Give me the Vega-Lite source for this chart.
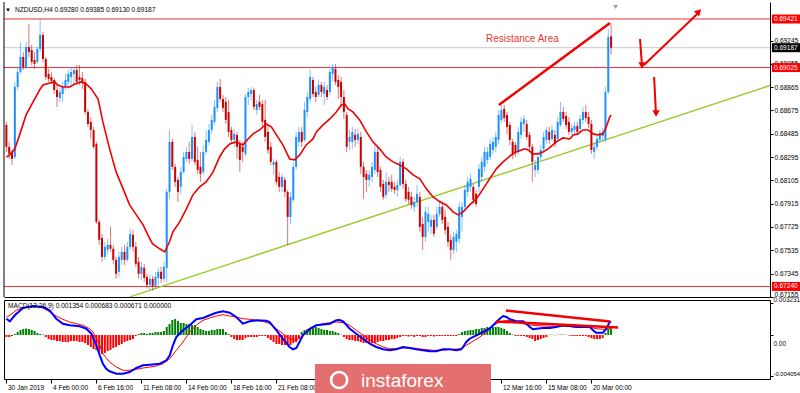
{
"$schema": "https://vega.github.io/schema/vega-lite/v6.json",
"background": "#ffffff",
"padding": {"left": 1, "top": 0, "right": 0, "bottom": 0},
"spacing": 3,
"bounds": "flush",
"config": {"view": {"stroke": null}, "font": "Liberation Sans", "axis": {"grid": false, "labelFont": "Liberation Sans"}, "scale": {"continuousPadding": 0}},
"datasets": {
"candles": [
{"i":0,"o":0.68557,"h":0.68582,"l":0.68337,"c":0.68378,"m":-0.0002},
{"i":1,"o":0.68378,"h":0.68419,"l":0.6828,"c":0.68321,"m":-0.0002},
{"i":2,"o":0.68337,"h":0.68353,"l":0.68231,"c":0.6828,"m":-0.0001},
{"i":3,"o":0.68296,"h":0.68908,"l":0.6828,"c":0.68867,"m":0.0001},
{"i":4,"o":0.68867,"h":0.6903,"l":0.68842,"c":0.68989,"m":0.0003},
{"i":5,"o":0.68989,"h":0.69234,"l":0.68973,"c":0.69111,"m":0.0005},
{"i":6,"o":0.69111,"h":0.69152,"l":0.69005,"c":0.6903,"m":0.0006},
{"i":7,"o":0.6903,"h":0.69234,"l":0.69014,"c":0.69193,"m":0.00065},
{"i":8,"o":0.69193,"h":0.6938,"l":0.69111,"c":0.69152,"m":0.0006},
{"i":9,"o":0.69168,"h":0.69209,"l":0.69046,"c":0.69071,"m":0.0005},
{"i":10,"o":0.69087,"h":0.69152,"l":0.69014,"c":0.69054,"m":0.0004},
{"i":11,"o":0.69071,"h":0.69193,"l":0.69054,"c":0.69176,"m":0.0002},
{"i":12,"o":0.69176,"h":0.69421,"l":0.69152,"c":0.69291,"m":0.0001},
{"i":13,"o":0.69291,"h":0.69315,"l":0.69071,"c":0.69095,"m":0.00005},
{"i":14,"o":0.69095,"h":0.69111,"l":0.68924,"c":0.68948,"m":-0.0002},
{"i":15,"o":0.68973,"h":0.69014,"l":0.68908,"c":0.68932,"m":-0.0004},
{"i":16,"o":0.68948,"h":0.68989,"l":0.68891,"c":0.68916,"m":-0.0005},
{"i":17,"o":0.68924,"h":0.6894,"l":0.6881,"c":0.68842,"m":-0.0005},
{"i":18,"o":0.68842,"h":0.68883,"l":0.68704,"c":0.68785,"m":-0.0006},
{"i":19,"o":0.68777,"h":0.68859,"l":0.68745,"c":0.68826,"m":-0.0006},
{"i":20,"o":0.6881,"h":0.68908,"l":0.68745,"c":0.68867,"m":-0.0007},
{"i":21,"o":0.68867,"h":0.68973,"l":0.68842,"c":0.68924,"m":-0.0007},
{"i":22,"o":0.68908,"h":0.69005,"l":0.68851,"c":0.68973,"m":-0.0007},
{"i":23,"o":0.68948,"h":0.6903,"l":0.68883,"c":0.68989,"m":-0.0006},
{"i":24,"o":0.68973,"h":0.6903,"l":0.68891,"c":0.69005,"m":-0.0006},
{"i":25,"o":0.69005,"h":0.69046,"l":0.68883,"c":0.68908,"m":-0.0006},
{"i":26,"o":0.68948,"h":0.69046,"l":0.68883,"c":0.68924,"m":-0.0007},
{"i":27,"o":0.6894,"h":0.68989,"l":0.68851,"c":0.68908,"m":-0.0007},
{"i":28,"o":0.68908,"h":0.68932,"l":0.68639,"c":0.68663,"m":-0.0008},
{"i":29,"o":0.68663,"h":0.68688,"l":0.68541,"c":0.68565,"m":-0.001},
{"i":30,"o":0.68582,"h":0.68622,"l":0.68443,"c":0.68516,"m":-0.0012},
{"i":31,"o":0.68516,"h":0.68541,"l":0.68362,"c":0.68378,"m":-0.0014},
{"i":32,"o":0.68402,"h":0.68419,"l":0.6775,"c":0.67767,"m":-0.0015},
{"i":33,"o":0.67767,"h":0.67783,"l":0.67579,"c":0.6762,"m":-0.0017},
{"i":34,"o":0.67636,"h":0.67669,"l":0.67441,"c":0.67481,"m":-0.0019},
{"i":35,"o":0.67481,"h":0.67604,"l":0.67457,"c":0.67563,"m":-0.0018},
{"i":36,"o":0.67538,"h":0.67628,"l":0.67498,"c":0.67579,"m":-0.0016},
{"i":37,"o":0.67579,"h":0.67726,"l":0.67522,"c":0.67547,"m":-0.0015},
{"i":38,"o":0.67547,"h":0.67579,"l":0.67424,"c":0.67457,"m":-0.0013},
{"i":39,"o":0.67457,"h":0.67481,"l":0.67302,"c":0.67343,"m":-0.0012},
{"i":40,"o":0.67359,"h":0.67522,"l":0.67318,"c":0.67481,"m":-0.001},
{"i":41,"o":0.67457,"h":0.67563,"l":0.67416,"c":0.67522,"m":-0.0009},
{"i":42,"o":0.67522,"h":0.67579,"l":0.67416,"c":0.67457,"m":-0.0007},
{"i":43,"o":0.67457,"h":0.67604,"l":0.67441,"c":0.67563,"m":-0.0006},
{"i":44,"o":0.67563,"h":0.6771,"l":0.67538,"c":0.67669,"m":-0.0005},
{"i":45,"o":0.67661,"h":0.67701,"l":0.67522,"c":0.67563,"m":-0.0004},
{"i":46,"o":0.67563,"h":0.67604,"l":0.674,"c":0.67424,"m":-0.0001},
{"i":47,"o":0.67441,"h":0.67481,"l":0.67302,"c":0.67343,"m":0.0001},
{"i":48,"o":0.67343,"h":0.67441,"l":0.67294,"c":0.674,"m":0.0002},
{"i":49,"o":0.67392,"h":0.67424,"l":0.67278,"c":0.6731,"m":0.0002},
{"i":50,"o":0.67318,"h":0.67343,"l":0.67221,"c":0.67253,"m":0.0001},
{"i":51,"o":0.67253,"h":0.67335,"l":0.67212,"c":0.67302,"m":0.0002},
{"i":52,"o":0.67302,"h":0.67326,"l":0.67204,"c":0.67245,"m":0.0002},
{"i":53,"o":0.67245,"h":0.67359,"l":0.67221,"c":0.67318,"m":0.0003},
{"i":54,"o":0.6731,"h":0.67392,"l":0.67253,"c":0.67359,"m":0.0003},
{"i":55,"o":0.67359,"h":0.674,"l":0.67269,"c":0.67302,"m":0.0003},
{"i":56,"o":0.67302,"h":0.67441,"l":0.67278,"c":0.674,"m":0.0004},
{"i":57,"o":0.67392,"h":0.68036,"l":0.67278,"c":0.68011,"m":0.0008},
{"i":58,"o":0.68011,"h":0.68516,"l":0.67954,"c":0.68419,"m":0.0011},
{"i":59,"o":0.68419,"h":0.68443,"l":0.6819,"c":0.68215,"m":0.0015},
{"i":60,"o":0.68215,"h":0.68239,"l":0.68052,"c":0.68093,"m":0.0016},
{"i":61,"o":0.68109,"h":0.68133,"l":0.6793,"c":0.68011,"m":0.0014},
{"i":62,"o":0.68052,"h":0.68215,"l":0.67995,"c":0.68174,"m":0.0012},
{"i":63,"o":0.68174,"h":0.68337,"l":0.68158,"c":0.68296,"m":0.0012},
{"i":64,"o":0.6828,"h":0.68378,"l":0.68256,"c":0.68337,"m":0.0011},
{"i":65,"o":0.68337,"h":0.68419,"l":0.68239,"c":0.6828,"m":0.0011},
{"i":66,"o":0.6828,"h":0.68557,"l":0.68256,"c":0.68459,"m":0.001},
{"i":67,"o":0.68459,"h":0.685,"l":0.68231,"c":0.68256,"m":0.001},
{"i":68,"o":0.68272,"h":0.68378,"l":0.68158,"c":0.6819,"m":0.0008},
{"i":69,"o":0.68215,"h":0.68337,"l":0.68093,"c":0.68158,"m":0.0006},
{"i":70,"o":0.68174,"h":0.68394,"l":0.6815,"c":0.68337,"m":0.0005},
{"i":71,"o":0.68337,"h":0.68516,"l":0.68313,"c":0.68435,"m":0.0004},
{"i":72,"o":0.68419,"h":0.68565,"l":0.68394,"c":0.68516,"m":0.0004},
{"i":73,"o":0.68516,"h":0.68639,"l":0.68484,"c":0.68598,"m":0.0005},
{"i":74,"o":0.68582,"h":0.68761,"l":0.68557,"c":0.68704,"m":0.0005},
{"i":75,"o":0.68696,"h":0.68908,"l":0.68663,"c":0.68867,"m":0.0006},
{"i":76,"o":0.68867,"h":0.68932,"l":0.68745,"c":0.68769,"m":0.0006},
{"i":77,"o":0.68769,"h":0.68802,"l":0.68663,"c":0.68696,"m":0.0006},
{"i":78,"o":0.68745,"h":0.68785,"l":0.68565,"c":0.68598,"m":0.0003},
{"i":79,"o":0.68663,"h":0.68761,"l":0.68459,"c":0.685,"m":0.0001},
{"i":80,"o":0.68516,"h":0.68541,"l":0.68402,"c":0.68435,"m":-0.0002},
{"i":81,"o":0.68435,"h":0.68525,"l":0.68378,"c":0.68484,"m":-0.0004},
{"i":82,"o":0.68476,"h":0.685,"l":0.6828,"c":0.68378,"m":-0.0005},
{"i":83,"o":0.68402,"h":0.68435,"l":0.68174,"c":0.68272,"m":-0.0005},
{"i":84,"o":0.68378,"h":0.68419,"l":0.68256,"c":0.68337,"m":-0.0005},
{"i":85,"o":0.68321,"h":0.6881,"l":0.68296,"c":0.68785,"m":-0.0003},
{"i":86,"o":0.68785,"h":0.68859,"l":0.6872,"c":0.68826,"m":-0.0002},
{"i":87,"o":0.6881,"h":0.68867,"l":0.68761,"c":0.68842,"m":-0.0002},
{"i":88,"o":0.68842,"h":0.68859,"l":0.68679,"c":0.68704,"m":-0.0002},
{"i":89,"o":0.68679,"h":0.68761,"l":0.68639,"c":0.68728,"m":-0.0002},
{"i":90,"o":0.68745,"h":0.68802,"l":0.68679,"c":0.68704,"m":-0.0001},
{"i":91,"o":0.68728,"h":0.68761,"l":0.68541,"c":0.68582,"m":-0.0001},
{"i":92,"o":0.68598,"h":0.68761,"l":0.68419,"c":0.68459,"m":-0.0001},
{"i":93,"o":0.685,"h":0.68557,"l":0.68321,"c":0.68353,"m":-0.0003},
{"i":94,"o":0.68378,"h":0.68419,"l":0.68231,"c":0.68256,"m":-0.0005},
{"i":95,"o":0.68231,"h":0.6828,"l":0.6815,"c":0.68256,"m":-0.0007},
{"i":96,"o":0.68256,"h":0.68272,"l":0.68068,"c":0.68093,"m":-0.0009},
{"i":97,"o":0.68133,"h":0.68174,"l":0.68011,"c":0.68052,"m":-0.0009},
{"i":98,"o":0.68052,"h":0.68158,"l":0.68011,"c":0.68133,"m":-0.001},
{"i":99,"o":0.68109,"h":0.68133,"l":0.6797,"c":0.68011,"m":-0.001},
{"i":100,"o":0.68011,"h":0.68027,"l":0.67579,"c":0.67807,"m":-0.001},
{"i":101,"o":0.67807,"h":0.68011,"l":0.6775,"c":0.6797,"m":-0.001},
{"i":102,"o":0.67946,"h":0.68256,"l":0.6793,"c":0.68215,"m":-0.0008},
{"i":103,"o":0.68215,"h":0.685,"l":0.6819,"c":0.68459,"m":-0.0007},
{"i":104,"o":0.68419,"h":0.68541,"l":0.68378,"c":0.685,"m":-0.0004},
{"i":105,"o":0.685,"h":0.68541,"l":0.68378,"c":0.68419,"m":0.0003},
{"i":106,"o":0.68435,"h":0.68745,"l":0.68419,"c":0.68679,"m":0.0005},
{"i":107,"o":0.68663,"h":0.68826,"l":0.68622,"c":0.68785,"m":0.0006},
{"i":108,"o":0.68769,"h":0.69014,"l":0.68745,"c":0.68948,"m":0.0007},
{"i":109,"o":0.68924,"h":0.68948,"l":0.68785,"c":0.6881,"m":0.0008},
{"i":110,"o":0.68826,"h":0.68867,"l":0.68745,"c":0.68785,"m":0.0008},
{"i":111,"o":0.68802,"h":0.68924,"l":0.68785,"c":0.68883,"m":0.0007},
{"i":112,"o":0.68883,"h":0.68908,"l":0.68785,"c":0.68826,"m":0.0006},
{"i":113,"o":0.6881,"h":0.68908,"l":0.6872,"c":0.68867,"m":0.0005},
{"i":114,"o":0.68842,"h":0.68883,"l":0.68761,"c":0.68785,"m":0.0005},
{"i":115,"o":0.68826,"h":0.69014,"l":0.68802,"c":0.68989,"m":0.0004},
{"i":116,"o":0.68973,"h":0.69054,"l":0.68908,"c":0.6903,"m":0.0004},
{"i":117,"o":0.69014,"h":0.69054,"l":0.68883,"c":0.68908,"m":0.0003},
{"i":118,"o":0.68924,"h":0.68965,"l":0.68769,"c":0.68867,"m":0.0002},
{"i":119,"o":0.68908,"h":0.68948,"l":0.68704,"c":0.68785,"m":0.00003},
{"i":120,"o":0.68785,"h":0.68842,"l":0.68606,"c":0.68663,"m":-0.0002},
{"i":121,"o":0.68639,"h":0.68663,"l":0.68337,"c":0.68378,"m":-0.0004},
{"i":122,"o":0.68419,"h":0.68516,"l":0.68353,"c":0.68459,"m":-0.0005},
{"i":123,"o":0.68419,"h":0.68541,"l":0.68362,"c":0.685,"m":-0.0005},
{"i":124,"o":0.68476,"h":0.68525,"l":0.68378,"c":0.68435,"m":-0.0006},
{"i":125,"o":0.68435,"h":0.68525,"l":0.68402,"c":0.68484,"m":-0.0006},
{"i":126,"o":0.68459,"h":0.685,"l":0.68158,"c":0.68215,"m":-0.0007},
{"i":127,"o":0.68215,"h":0.68256,"l":0.67954,"c":0.68133,"m":-0.0008},
{"i":128,"o":0.68158,"h":0.6819,"l":0.68011,"c":0.68109,"m":-0.0008},
{"i":129,"o":0.68109,"h":0.6819,"l":0.68052,"c":0.6815,"m":-0.0009},
{"i":130,"o":0.68133,"h":0.68256,"l":0.68093,"c":0.68215,"m":-0.0008},
{"i":131,"o":0.6819,"h":0.68394,"l":0.68158,"c":0.68337,"m":-0.0008},
{"i":132,"o":0.68337,"h":0.68378,"l":0.68133,"c":0.68174,"m":-0.0007},
{"i":133,"o":0.6819,"h":0.68215,"l":0.68011,"c":0.68052,"m":-0.0006},
{"i":134,"o":0.68076,"h":0.68109,"l":0.67946,"c":0.6797,"m":-0.0006},
{"i":135,"o":0.67987,"h":0.68174,"l":0.67954,"c":0.68093,"m":-0.0005},
{"i":136,"o":0.68093,"h":0.68133,"l":0.68011,"c":0.68068,"m":-0.0005},
{"i":137,"o":0.68093,"h":0.6815,"l":0.68011,"c":0.68036,"m":-0.0004},
{"i":138,"o":0.68052,"h":0.68093,"l":0.67995,"c":0.68027,"m":-0.0004},
{"i":139,"o":0.68027,"h":0.68109,"l":0.6797,"c":0.68068,"m":-0.0003},
{"i":140,"o":0.68068,"h":0.68296,"l":0.68052,"c":0.68256,"m":-0.0002},
{"i":141,"o":0.68256,"h":0.6828,"l":0.68036,"c":0.68076,"m":-0.0001},
{"i":142,"o":0.68076,"h":0.68109,"l":0.6793,"c":0.67954,"m":-0.0001},
{"i":143,"o":0.68011,"h":0.68052,"l":0.67913,"c":0.67946,"m":-0.00015},
{"i":144,"o":0.6797,"h":0.68011,"l":0.67873,"c":0.67905,"m":-0.0001},
{"i":145,"o":0.67889,"h":0.6797,"l":0.67848,"c":0.6793,"m":-0.0002},
{"i":146,"o":0.6793,"h":0.68068,"l":0.67889,"c":0.67995,"m":-0.0001},
{"i":147,"o":0.6797,"h":0.68011,"l":0.67685,"c":0.67726,"m":-0.0001},
{"i":148,"o":0.6775,"h":0.67807,"l":0.67538,"c":0.67644,"m":-0.0002},
{"i":149,"o":0.67644,"h":0.67889,"l":0.67604,"c":0.67848,"m":-0.0002},
{"i":150,"o":0.67767,"h":0.67889,"l":0.67685,"c":0.67832,"m":-0.0001},
{"i":151,"o":0.67726,"h":0.67824,"l":0.67669,"c":0.67783,"m":-0.0001},
{"i":152,"o":0.67783,"h":0.67824,"l":0.67644,"c":0.67669,"m":-0.00015},
{"i":153,"o":0.67726,"h":0.67889,"l":0.67701,"c":0.67832,"m":-0.0001},
{"i":154,"o":0.67832,"h":0.67946,"l":0.67807,"c":0.67889,"m":-0.0001},
{"i":155,"o":0.67889,"h":0.6793,"l":0.6775,"c":0.67783,"m":-0.0001},
{"i":156,"o":0.67807,"h":0.67864,"l":0.67661,"c":0.67701,"m":-0.0001},
{"i":157,"o":0.67726,"h":0.67767,"l":0.67563,"c":0.67604,"m":-0.0001},
{"i":158,"o":0.6762,"h":0.67661,"l":0.67457,"c":0.67538,"m":-0.0001},
{"i":159,"o":0.67538,"h":0.67685,"l":0.67506,"c":0.67644,"m":-0.0001},
{"i":160,"o":0.67604,"h":0.67701,"l":0.67522,"c":0.67669,"m":-0.0001},
{"i":161,"o":0.67628,"h":0.6793,"l":0.67587,"c":0.67889,"m":0.0001},
{"i":162,"o":0.67807,"h":0.6793,"l":0.67685,"c":0.67889,"m":0.0003},
{"i":163,"o":0.67889,"h":0.68068,"l":0.67848,"c":0.68027,"m":0.0004},
{"i":164,"o":0.68011,"h":0.68133,"l":0.6797,"c":0.68093,"m":0.00045},
{"i":165,"o":0.68052,"h":0.68158,"l":0.68011,"c":0.68117,"m":0.0005},
{"i":166,"o":0.68052,"h":0.68076,"l":0.67913,"c":0.67946,"m":0.0005},
{"i":167,"o":0.67995,"h":0.68027,"l":0.67889,"c":0.67913,"m":0.0006},
{"i":168,"o":0.68052,"h":0.68239,"l":0.68011,"c":0.68199,"m":0.0006},
{"i":169,"o":0.68133,"h":0.68296,"l":0.68093,"c":0.68256,"m":0.0007},
{"i":170,"o":0.68215,"h":0.68378,"l":0.68174,"c":0.68337,"m":0.0007},
{"i":171,"o":0.68272,"h":0.68378,"l":0.68239,"c":0.68337,"m":0.0008},
{"i":172,"o":0.68296,"h":0.68443,"l":0.68272,"c":0.68402,"m":0.0008},
{"i":173,"o":0.68353,"h":0.68459,"l":0.68321,"c":0.68419,"m":0.0008},
{"i":174,"o":0.68378,"h":0.685,"l":0.68337,"c":0.68459,"m":0.0008},
{"i":175,"o":0.68435,"h":0.68679,"l":0.68402,"c":0.68639,"m":0.0008},
{"i":176,"o":0.68598,"h":0.6872,"l":0.68565,"c":0.68679,"m":0.0007},
{"i":177,"o":0.68688,"h":0.6872,"l":0.68582,"c":0.68614,"m":0.0006},
{"i":178,"o":0.68639,"h":0.68663,"l":0.68484,"c":0.68541,"m":0.0004},
{"i":179,"o":0.68557,"h":0.68582,"l":0.68394,"c":0.68435,"m":0.0002},
{"i":180,"o":0.68419,"h":0.68443,"l":0.6828,"c":0.68313,"m":0.00005},
{"i":181,"o":0.68394,"h":0.68419,"l":0.68296,"c":0.68337,"m":-0.0001},
{"i":182,"o":0.68337,"h":0.68541,"l":0.68313,"c":0.685,"m":-0.0001},
{"i":183,"o":0.68476,"h":0.68622,"l":0.68443,"c":0.68582,"m":-0.0001},
{"i":184,"o":0.68565,"h":0.68639,"l":0.685,"c":0.68606,"m":-0.0001},
{"i":185,"o":0.68565,"h":0.68598,"l":0.68435,"c":0.68459,"m":-0.0002},
{"i":186,"o":0.68476,"h":0.685,"l":0.68353,"c":0.68378,"m":-0.0003},
{"i":187,"o":0.68378,"h":0.68402,"l":0.68093,"c":0.68256,"m":-0.0004},
{"i":188,"o":0.6819,"h":0.68272,"l":0.68133,"c":0.68231,"m":-0.0006},
{"i":189,"o":0.6819,"h":0.68337,"l":0.68158,"c":0.68296,"m":-0.0005},
{"i":190,"o":0.68296,"h":0.68394,"l":0.68272,"c":0.68353,"m":-0.0004},
{"i":191,"o":0.68362,"h":0.685,"l":0.68337,"c":0.68459,"m":-0.0003},
{"i":192,"o":0.68435,"h":0.68541,"l":0.68402,"c":0.68516,"m":-0.0002},
{"i":193,"o":0.685,"h":0.68541,"l":0.68402,"c":0.68435,"m":0.00003},
{"i":194,"o":0.68443,"h":0.68557,"l":0.68419,"c":0.68516,"m":0.00003},
{"i":195,"o":0.68476,"h":0.68516,"l":0.68378,"c":0.68402,"m":-0.00003},
{"i":196,"o":0.68443,"h":0.68622,"l":0.68419,"c":0.68582,"m":0.00003},
{"i":197,"o":0.68557,"h":0.68745,"l":0.68541,"c":0.68663,"m":0.00005},
{"i":198,"o":0.68663,"h":0.68704,"l":0.68582,"c":0.68606,"m":0.00003},
{"i":199,"o":0.6863,"h":0.68663,"l":0.68525,"c":0.68557,"m":0.00003},
{"i":200,"o":0.68582,"h":0.68622,"l":0.68476,"c":0.685,"m":-0.00005},
{"i":201,"o":0.685,"h":0.68565,"l":0.68476,"c":0.68533,"m":-0.0001},
{"i":202,"o":0.68516,"h":0.68582,"l":0.68484,"c":0.68549,"m":-0.0001},
{"i":203,"o":0.68549,"h":0.68582,"l":0.68476,"c":0.685,"m":-0.0001},
{"i":204,"o":0.68525,"h":0.68639,"l":0.685,"c":0.68606,"m":-0.0001},
{"i":205,"o":0.68598,"h":0.68704,"l":0.68565,"c":0.68663,"m":-0.0001},
{"i":206,"o":0.68663,"h":0.6872,"l":0.68582,"c":0.68614,"m":-0.0001},
{"i":207,"o":0.68622,"h":0.68663,"l":0.68533,"c":0.68565,"m":-0.0002},
{"i":208,"o":0.68565,"h":0.68598,"l":0.68321,"c":0.68353,"m":-0.0003},
{"i":209,"o":0.68337,"h":0.68419,"l":0.6828,"c":0.68378,"m":-0.0004},
{"i":210,"o":0.68378,"h":0.68476,"l":0.68353,"c":0.68443,"m":-0.0004},
{"i":211,"o":0.68435,"h":0.68516,"l":0.6841,"c":0.68492,"m":-0.0004},
{"i":212,"o":0.68467,"h":0.68533,"l":0.68419,"c":0.685,"m":-0.0003},
{"i":213,"o":0.68435,"h":0.68867,"l":0.68419,"c":0.68826,"m":0.0002},
{"i":214,"o":0.68826,"h":0.6934,"l":0.6881,"c":0.69274,"m":0.0006},
{"i":215,"o":0.6928,"h":0.69385,"l":0.6913,"c":0.69187,"m":0.000671}
],
"ma": [
{"i":0,"p":0.68296},{"i":1.2,"p":0.68313},{"i":3,"p":0.68362},{"i":4.7,"p":0.68476},{"i":7,"p":0.68639},{"i":9.5,"p":0.68745},{"i":11.8,"p":0.68842},{"i":13,"p":0.68883},{"i":15.4,"p":0.68899},{"i":17.2,"p":0.68908},{"i":18.3,"p":0.68883},{"i":20,"p":0.68867},{"i":22.5,"p":0.68867},{"i":24.3,"p":0.68891},{"i":26.6,"p":0.68908},{"i":28.4,"p":0.68891},{"i":30.2,"p":0.68851},{"i":32.6,"p":0.68769},{"i":34.3,"p":0.68582},{"i":36.7,"p":0.68362},{"i":39,"p":0.68174},{"i":41.5,"p":0.68036},{"i":43.8,"p":0.67905},{"i":46.2,"p":0.67824},{"i":48.6,"p":0.67742},{"i":51,"p":0.67628},{"i":52,"p":0.67587},{"i":54.5,"p":0.67547},{"i":56.3,"p":0.67522},{"i":58,"p":0.67604},{"i":59.2,"p":0.67685},{"i":61.6,"p":0.67767},{"i":64,"p":0.67873},{"i":66.3,"p":0.67987},{"i":68.7,"p":0.68052},{"i":71,"p":0.68093},{"i":73.5,"p":0.68174},{"i":75.8,"p":0.68296},{"i":77.6,"p":0.68362},{"i":79.4,"p":0.68402},{"i":81.7,"p":0.68419},{"i":84.1,"p":0.68394},{"i":85.9,"p":0.68443},{"i":87.7,"p":0.68484},{"i":90,"p":0.68516},{"i":92.4,"p":0.68565},{"i":94.2,"p":0.68541},{"i":96,"p":0.68476},{"i":98.3,"p":0.68394},{"i":100.7,"p":0.6828},{"i":102.5,"p":0.68272},{"i":104.3,"p":0.68313},{"i":106.6,"p":0.68394},{"i":109,"p":0.68443},{"i":110.2,"p":0.685},{"i":112.6,"p":0.68557},{"i":115,"p":0.68606},{"i":117.3,"p":0.68663},{"i":119.1,"p":0.6872},{"i":120.3,"p":0.68728},{"i":121.5,"p":0.68688},{"i":123.2,"p":0.68663},{"i":125.6,"p":0.68598},{"i":128,"p":0.685},{"i":130.3,"p":0.68419},{"i":132.7,"p":0.68362},{"i":135,"p":0.68296},{"i":137.5,"p":0.68256},{"i":139.8,"p":0.68231},{"i":142.2,"p":0.68199},{"i":144.6,"p":0.6815},{"i":147,"p":0.68117},{"i":149.3,"p":0.68036},{"i":151.7,"p":0.6797},{"i":154.1,"p":0.6793},{"i":156.4,"p":0.67905},{"i":158.8,"p":0.67848},{"i":160.6,"p":0.67824},{"i":162.4,"p":0.67848},{"i":164.7,"p":0.67905},{"i":167.1,"p":0.67954},{"i":169.5,"p":0.68036},{"i":171.8,"p":0.68117},{"i":174.2,"p":0.68199},{"i":176.6,"p":0.68256},{"i":179.5,"p":0.68313},{"i":181.3,"p":0.68337},{"i":183.1,"p":0.68353},{"i":184.3,"p":0.68362},{"i":185.5,"p":0.68353},{"i":187.2,"p":0.68321},{"i":189,"p":0.68321},{"i":190.8,"p":0.68337},{"i":192.6,"p":0.68362},{"i":194.3,"p":0.68394},{"i":195.5,"p":0.68419},{"i":197.9,"p":0.68451},{"i":200.3,"p":0.68443},{"i":201.5,"p":0.68476},{"i":203.2,"p":0.68484},{"i":205,"p":0.68516},{"i":206.8,"p":0.68516},{"i":208.6,"p":0.68484},{"i":210.3,"p":0.68476},{"i":212.1,"p":0.68484},{"i":213.3,"p":0.68541},{"i":214.5,"p":0.68622},{"i":215,"p":0.68639}
],
"macd": [
{"i":0,"v":0.00163},{"i":1.2,"v":0.00137},{"i":3,"v":0.00197},{"i":5.9,"v":0.0027},{"i":9.5,"v":0.0029},{"i":13,"v":0.0028},{"i":15.4,"v":0.00247},{"i":17.7,"v":0.00163},{"i":20.1,"v":0.00113},{"i":22.5,"v":0.00097},{"i":26.1,"v":0.00087},{"i":28.4,"v":0.00063},{"i":30.2,"v":0.00013},{"i":32,"v":-0.00103},{"i":33.2,"v":-0.00203},{"i":34.3,"v":-0.00287},{"i":35.5,"v":-0.00337},{"i":36.7,"v":-0.00363},{"i":39.1,"v":-0.00387},{"i":41.5,"v":-0.00387},{"i":43.8,"v":-0.0037},{"i":46.2,"v":-0.0033},{"i":48.6,"v":-0.00303},{"i":51,"v":-0.00297},{"i":54.5,"v":-0.00287},{"i":56.9,"v":-0.00253},{"i":58.1,"v":-0.00203},{"i":59.2,"v":-0.00103},{"i":60.4,"v":-0.0002},{"i":62.8,"v":0.00047},{"i":65.2,"v":0.00097},{"i":67.5,"v":0.00157},{"i":69.9,"v":0.0017},{"i":72.3,"v":0.00197},{"i":74.6,"v":0.00223},{"i":77,"v":0.00237},{"i":79.4,"v":0.00223},{"i":81.7,"v":0.0018},{"i":84.1,"v":0.00113},{"i":86.5,"v":0.00137},{"i":88.9,"v":0.00147},{"i":92.4,"v":0.00143},{"i":93.6,"v":0.0013},{"i":96,"v":0.00047},{"i":98.3,"v":-0.00037},{"i":100.7,"v":-0.0012},{"i":101.9,"v":-0.00143},{"i":103.1,"v":-0.0013},{"i":105.5,"v":0},{"i":107.8,"v":0.00063},{"i":110.2,"v":0.00097},{"i":115,"v":0.00113},{"i":117.3,"v":0.00147},{"i":118.5,"v":0.0015},{"i":119.7,"v":0.00137},{"i":122.1,"v":0.00063},{"i":124.4,"v":0.00013},{"i":126.8,"v":-0.00037},{"i":129.2,"v":-0.00087},{"i":131.5,"v":-0.0012},{"i":133.9,"v":-0.00143},{"i":136.3,"v":-0.00153},{"i":138.6,"v":-0.00143},{"i":141,"v":-0.0012},{"i":143.4,"v":-0.0013},{"i":145.7,"v":-0.00143},{"i":148.1,"v":-0.00153},{"i":150.5,"v":-0.00163},{"i":152.9,"v":-0.00163},{"i":155.2,"v":-0.00143},{"i":157.6,"v":-0.00143},{"i":160,"v":-0.00153},{"i":161.7,"v":-0.00143},{"i":162.4,"v":-0.0012},{"i":163.5,"v":-0.0007},{"i":164.7,"v":-0.00037},{"i":167.1,"v":-0.00003},{"i":169.5,"v":0.0003},{"i":171.8,"v":0.00063},{"i":173.6,"v":0.00113},{"i":175.4,"v":0.00163},{"i":176.6,"v":0.0019},{"i":177.8,"v":0.0018},{"i":179,"v":0.00157},{"i":181.3,"v":0.00137},{"i":183.7,"v":0.00137},{"i":184.9,"v":0.00113},{"i":186.1,"v":0.0008},{"i":187.2,"v":0.00057},{"i":188.4,"v":0.00063},{"i":190.8,"v":0.0007},{"i":193.2,"v":0.0007},{"i":195.5,"v":0.0008},{"i":197.9,"v":0.00097},{"i":200.3,"v":0.0009},{"i":202.6,"v":0.0008},{"i":205,"v":0.0008},{"i":207.4,"v":0.0008},{"i":208.6,"v":0.00047},{"i":209.7,"v":0.00023},{"i":212.1,"v":0.00023},{"i":213.3,"v":0.00063},{"i":214.5,"v":0.0013},{"i":215,"v":0.001354}
],
"signal": [
{"i":0,"v":0.0018},{"i":1.2,"v":0.00197},{"i":3.5,"v":0.00247},{"i":5.9,"v":0.0027},{"i":8.3,"v":0.0028},{"i":10.6,"v":0.0029},{"i":13,"v":0.0027},{"i":15.4,"v":0.0023},{"i":17.7,"v":0.0019},{"i":20.1,"v":0.00157},{"i":22.5,"v":0.0013},{"i":24.9,"v":0.00113},{"i":27.2,"v":0.00097},{"i":29.6,"v":0.00063},{"i":30.8,"v":0.0003},{"i":32,"v":-0.00037},{"i":33.2,"v":-0.00103},{"i":34.3,"v":-0.00187},{"i":36.7,"v":-0.0027},{"i":39.1,"v":-0.0032},{"i":41.5,"v":-0.00353},{"i":43.8,"v":-0.00353},{"i":46.2,"v":-0.00343},{"i":48.6,"v":-0.0033},{"i":51,"v":-0.0032},{"i":53.3,"v":-0.0031},{"i":55.7,"v":-0.00287},{"i":58.1,"v":-0.00237},{"i":60.4,"v":-0.00153},{"i":62.8,"v":-0.0007},{"i":65.2,"v":0.0003},{"i":67.5,"v":0.00097},{"i":69.9,"v":0.00147},{"i":72.3,"v":0.0017},{"i":74.6,"v":0.0019},{"i":77,"v":0.00203},{"i":79.4,"v":0.0019},{"i":81.7,"v":0.0018},{"i":84.1,"v":0.00163},{"i":86.5,"v":0.00157},{"i":88.9,"v":0.00147},{"i":91.2,"v":0.00137},{"i":93.6,"v":0.00113},{"i":96,"v":0.00063},{"i":98.3,"v":0.00013},{"i":100.7,"v":-0.00037},{"i":103.1,"v":-0.00053},{"i":105.5,"v":0},{"i":107.8,"v":0.00047},{"i":110.2,"v":0.00097},{"i":112.6,"v":0.00113},{"i":115,"v":0.00123},{"i":117.3,"v":0.0013},{"i":119.7,"v":0.00123},{"i":122.1,"v":0.00097},{"i":124.4,"v":0.00047},{"i":126.8,"v":0},{"i":129.2,"v":-0.00053},{"i":131.5,"v":-0.00087},{"i":133.9,"v":-0.0012},{"i":136.3,"v":-0.00137},{"i":138.6,"v":-0.00137},{"i":141,"v":-0.0013},{"i":144.6,"v":-0.0013},{"i":148.1,"v":-0.00143},{"i":151.7,"v":-0.00153},{"i":155.2,"v":-0.00153},{"i":158.8,"v":-0.00143},{"i":161.7,"v":-0.00137},{"i":163.5,"v":-0.00103},{"i":165.9,"v":-0.00063},{"i":168.3,"v":-0.0002},{"i":170.7,"v":0.0003},{"i":173,"v":0.00097},{"i":175.4,"v":0.0013},{"i":177.8,"v":0.00147},{"i":180.1,"v":0.00137},{"i":182.5,"v":0.00123},{"i":184.9,"v":0.00103},{"i":187.2,"v":0.00097},{"i":190.8,"v":0.0009},{"i":194.3,"v":0.00087},{"i":197.9,"v":0.00087},{"i":201.5,"v":0.00083},{"i":205,"v":0.00083},{"i":207.4,"v":0.0008},{"i":209.7,"v":0.00063},{"i":212.1,"v":0.00057},{"i":213.9,"v":0.0006},{"i":215,"v":0.000683}
]
},
"vconcat": [
{
"width": 766, "height": 295,
"layer": [
{"data": {"values": [{"p": 0.69421, "k": "level"}, {"p": 0.69025, "k": "level"}, {"p": 0.6724, "k": "level"}, {"p": 0.69187, "k": "bid"}]}, "mark": {"type": "rule", "strokeWidth": 1}, "encoding": {"y": {"field": "p", "type": "quantitative", "title": null, "scale": {"domain": [0.67154, 0.695596], "nice": false, "zero": false, "padding": 0}, "axis": {"orient": "right", "values": [0.67155, 0.67345, 0.67535, 0.67725, 0.67915, 0.68105, 0.68295, 0.68485, 0.68675, 0.68865, 0.69055, 0.69245], "tickCount": 40, "format": ".5f", "title": null, "grid": false, "tickSize": 3, "labelPadding": 1, "labelFontSize": 6.6, "labelFont": "Liberation Sans", "labelColor": "#000000", "tickColor": "#000000", "domainColor": "#000000", "labelOverlap": false, "labelBound": false, "labelFlush": false, "labelOffset": {"condition": {"test": "datum.value < 0.672", "value": -2}, "value": 0}}}, "color": {"condition": {"test": "datum.k == 'bid'", "value": "#C8C8C8"}, "value": "#F23030"}}},
{"data": {"values": [{"i": 43.9, "p": 0.67155}, {"i": 271.5, "p": 0.68879}]}, "mark": {"type": "line", "color": "#9ACD32", "strokeWidth": 1.5}, "encoding": {"x": {"field": "i", "type": "quantitative", "title": null, "scale": {"domain": [-0.853, 271.5], "nice": false, "zero": false, "padding": 0}, "axis": {"orient": "bottom", "labels": false, "ticks": false, "grid": false, "title": null, "domainColor": "#000000"}}, "y": {"field": "p", "type": "quantitative", "title": null, "scale": {"domain": [0.67154, 0.695596], "nice": false, "zero": false, "padding": 0}}}},
{"data": {"values": [{"i": -0.853, "p": 0.67154}, {"i": -0.853, "p": 0.695596}]}, "mark": {"type": "line", "color": "#000000", "strokeWidth": 1}, "encoding": {"x": {"field": "i", "type": "quantitative", "title": null, "scale": {"domain": [-0.853, 271.5], "nice": false, "zero": false, "padding": 0}}, "y": {"field": "p", "type": "quantitative", "title": null, "scale": {"domain": [0.67154, 0.695596], "nice": false, "zero": false, "padding": 0}}}},
{"data": {"name": "candles"}, "mark": {"type": "rule", "strokeWidth": 1, "opacity": 0.55}, "encoding": {"x": {"field": "i", "type": "quantitative", "title": null, "scale": {"domain": [-0.853, 271.5], "nice": false, "zero": false, "padding": 0}}, "y": {"field": "l", "type": "quantitative", "title": null, "scale": {"domain": [0.67154, 0.695596], "nice": false, "zero": false, "padding": 0}}, "y2": {"field": "h"}, "color": {"condition": {"test": "datum.c >= datum.o", "value": "#1E90FF"}, "value": "#CC0000"}}},
{"data": {"name": "candles"}, "mark": {"type": "bar", "size": 2}, "encoding": {"x": {"field": "i", "type": "quantitative", "title": null, "scale": {"domain": [-0.853, 271.5], "nice": false, "zero": false, "padding": 0}}, "y": {"field": "o", "type": "quantitative", "title": null, "scale": {"domain": [0.67154, 0.695596], "nice": false, "zero": false, "padding": 0}}, "y2": {"field": "c"}, "color": {"condition": {"test": "datum.c >= datum.o", "value": "#1E90FF"}, "value": "#CC0000"}}},
{"data": {"name": "ma"}, "mark": {"type": "line", "color": "#F00000", "strokeWidth": 1.6}, "encoding": {"x": {"field": "i", "type": "quantitative", "title": null, "scale": {"domain": [-0.853, 271.5], "nice": false, "zero": false, "padding": 0}}, "y": {"field": "p", "type": "quantitative", "title": null, "scale": {"domain": [0.67154, 0.695596], "nice": false, "zero": false, "padding": 0}}}},
{"data": {"values": [{"i": 175.1, "p": 0.6872}, {"i": 214.6, "p": 0.69388}]}, "mark": {"type": "line", "color": "#F00000", "strokeWidth": 2.5}, "encoding": {"x": {"field": "i", "type": "quantitative", "title": null, "scale": {"domain": [-0.853, 271.5], "nice": false, "zero": false, "padding": 0}}, "y": {"field": "p", "type": "quantitative", "title": null, "scale": {"domain": [0.67154, 0.695596], "nice": false, "zero": false, "padding": 0}}}},
{"data": {"values": [{"i": 226.7, "p": 0.69046, "g": "a"}, {"i": 245.8, "p": 0.69466, "g": "a"}, {"i": 225.3, "p": 0.69258, "g": "b"}, {"i": 225.9, "p": 0.69065, "g": "b"}, {"i": 230.3, "p": 0.68948, "g": "c"}, {"i": 230.9, "p": 0.68672, "g": "c"}]}, "mark": {"type": "line", "color": "#F00000", "strokeWidth": 2}, "encoding": {"x": {"field": "i", "type": "quantitative", "title": null, "scale": {"domain": [-0.853, 271.5], "nice": false, "zero": false, "padding": 0}}, "y": {"field": "p", "type": "quantitative", "title": null, "scale": {"domain": [0.67154, 0.695596], "nice": false, "zero": false, "padding": 0}}, "detail": {"field": "g"}}},
{"data": {"values": [{"i": 246.2, "p": 0.69482}]}, "mark": {"type": "point", "shape": "triangle-up", "angle": 45, "size": 55, "filled": true, "color": "#F00000", "opacity": 1}, "encoding": {"x": {"field": "i", "type": "quantitative", "title": null, "scale": {"domain": [-0.853, 271.5], "nice": false, "zero": false, "padding": 0}}, "y": {"field": "p", "type": "quantitative", "title": null, "scale": {"domain": [0.67154, 0.695596], "nice": false, "zero": false, "padding": 0}}}},
{"data": {"values": [{"i": 226.0, "p": 0.69042}, {"i": 231.0, "p": 0.68651}]}, "mark": {"type": "point", "shape": "triangle-down", "size": 55, "filled": true, "color": "#F00000", "opacity": 1}, "encoding": {"x": {"field": "i", "type": "quantitative", "title": null, "scale": {"domain": [-0.853, 271.5], "nice": false, "zero": false, "padding": 0}}, "y": {"field": "p", "type": "quantitative", "title": null, "scale": {"domain": [0.67154, 0.695596], "nice": false, "zero": false, "padding": 0}}}},
{"data": {"values": [{"i": 3.06, "p": 0.69494, "t": "NZDUSD,H4  0.69280 0.69385 0.69130 0.69187"}]}, "mark": {"type": "text", "align": "left", "baseline": "middle", "fontSize": 6.6, "font": "Liberation Sans", "color": "#000000"}, "encoding": {"x": {"field": "i", "type": "quantitative", "title": null, "scale": {"domain": [-0.853, 271.5], "nice": false, "zero": false, "padding": 0}}, "y": {"field": "p", "type": "quantitative", "title": null, "scale": {"domain": [0.67154, 0.695596], "nice": false, "zero": false, "padding": 0}}, "text": {"field": "t"}}},
{"data": {"values": [{"i": 0.6, "p": 0.69494}]}, "mark": {"type": "point", "shape": "triangle-down", "size": 14, "filled": true, "color": "#000000", "opacity": 1}, "encoding": {"x": {"field": "i", "type": "quantitative", "title": null, "scale": {"domain": [-0.853, 271.5], "nice": false, "zero": false, "padding": 0}}, "y": {"field": "p", "type": "quantitative", "title": null, "scale": {"domain": [0.67154, 0.695596], "nice": false, "zero": false, "padding": 0}}}},
{"data": {"values": [{"i": 170.5, "p": 0.69258, "t": "Resistance Area"}]}, "mark": {"type": "text", "align": "left", "baseline": "middle", "fontSize": 10, "font": "Liberation Sans", "color": "#E8372F"}, "encoding": {"x": {"field": "i", "type": "quantitative", "title": null, "scale": {"domain": [-0.853, 271.5], "nice": false, "zero": false, "padding": 0}}, "y": {"field": "p", "type": "quantitative", "title": null, "scale": {"domain": [0.67154, 0.695596], "nice": false, "zero": false, "padding": 0}}, "text": {"field": "t"}}},
{"data": {"values": [{"i": 216.6, "p": 0.69519}]}, "mark": {"type": "point", "shape": "triangle-down", "size": 22, "filled": true, "color": "#A0A0A0", "opacity": 1}, "encoding": {"x": {"field": "i", "type": "quantitative", "title": null, "scale": {"domain": [-0.853, 271.5], "nice": false, "zero": false, "padding": 0}}, "y": {"field": "p", "type": "quantitative", "title": null, "scale": {"domain": [0.67154, 0.695596], "nice": false, "zero": false, "padding": 0}}}},
{"data": {"values": [{"p": 0.69421, "k": "level", "bx": 277.7}, {"p": 0.69025, "k": "level", "bx": 277.7}, {"p": 0.6724, "k": "level", "bx": 277.7}, {"p": 0.69187, "k": "bid", "bx": 277.7}]}, "mark": {"type": "point", "shape": "M-1,-0.29L1,-0.29L1,0.29L-1,0.29Z", "size": 961, "filled": true, "opacity": 1, "strokeWidth": 0}, "encoding": {"x": {"field": "bx", "type": "quantitative", "title": null, "scale": {"domain": [-0.853, 271.5], "nice": false, "zero": false, "padding": 0}}, "y": {"field": "p", "type": "quantitative", "title": null, "scale": {"domain": [0.67154, 0.695596], "nice": false, "zero": false, "padding": 0}}, "color": {"condition": {"test": "datum.k == 'bid'", "value": "#000000"}, "value": "#FF0000"}}},
{"data": {"values": [{"p": 0.69421, "t": "0.69421", "tx": 272.9}, {"p": 0.69025, "t": "0.69025", "tx": 272.9}, {"p": 0.6724, "t": "0.67240", "tx": 272.9}, {"p": 0.69187, "t": "0.69187", "tx": 272.9}]}, "mark": {"type": "text", "align": "left", "baseline": "middle", "fontSize": 6.6, "font": "Liberation Sans", "color": "#FFFFFF"}, "encoding": {"x": {"field": "tx", "type": "quantitative", "title": null, "scale": {"domain": [-0.853, 271.5], "nice": false, "zero": false, "padding": 0}}, "y": {"field": "p", "type": "quantitative", "title": null, "scale": {"domain": [0.67154, 0.695596], "nice": false, "zero": false, "padding": 0}}, "text": {"field": "t"}}}
]
},
{
"width": 766, "height": 79,
"view": {"stroke": "#000000", "strokeWidth": 1},
"layer": [
{"data": {"name": "candles"}, "mark": {"type": "bar", "size": 2}, "encoding": {"x": {"field": "i", "type": "quantitative", "title": null, "scale": {"domain": [-0.853, 271.5], "nice": false, "zero": false, "padding": 0}, "axis": {"orient": "bottom", "values": [0, 16, 32, 48, 64, 80, 96, 176, 192, 208], "tickCount": 40, "labelExpr": "datum.value == 0 ? '30 Jan 2019' : datum.value == 16 ? '4 Feb 00:00' : datum.value == 32 ? '6 Feb 16:00' : datum.value == 48 ? '11 Feb 08:00' : datum.value == 64 ? '14 Feb 00:00' : datum.value == 80 ? '18 Feb 16:00' : datum.value == 96 ? '21 Feb 08:00' : datum.value == 176 ? '12 Mar 16:00' : datum.value == 192 ? '15 Mar 08:00' : '20 Mar 00:00'", "title": null, "grid": false, "domain": false, "tickSize": 4, "tickColor": "#000000", "labelAlign": "left", "labelBaseline": "top", "labelPadding": 1, "labelOffset": 1, "labelFontSize": 6.6, "labelFont": "Liberation Sans", "labelColor": "#000000", "labelOverlap": false, "labelBound": false, "labelFlush": false}}, "y": {"field": "m", "type": "quantitative", "title": null, "scale": {"domain": [-0.0044, 0.0035], "nice": false, "zero": false, "padding": 0}, "axis": {"orient": "right", "values": [0.003231, 0, -0.004054], "tickCount": 40, "labelExpr": "datum.value > 0.001 ? '0.003231' : (datum.value < -0.001 ? '-0.004054' : '0.00')", "title": null, "grid": false, "domain": false, "tickSize": 3, "tickColor": "#000000", "labelPadding": 0, "labelFontSize": {"condition": {"test": "datum.value < -0.001", "value": 5.9}, "value": 6.4}, "labelFont": "Liberation Sans", "labelColor": "#000000", "labelOverlap": false, "labelBound": false, "labelFlush": false, "labelOffset": {"condition": [{"test": "datum.value > 0.001", "value": -3}, {"test": "datum.value < -0.001", "value": -2}], "value": 8}}}, "y2": {"datum": 0}, "color": {"condition": {"test": "datum.m >= 0", "value": "#008000"}, "value": "#FF0000"}}},
{"data": {"name": "signal"}, "mark": {"type": "line", "color": "#FF0000", "strokeWidth": 1}, "encoding": {"x": {"field": "i", "type": "quantitative", "title": null, "scale": {"domain": [-0.853, 271.5], "nice": false, "zero": false, "padding": 0}}, "y": {"field": "v", "type": "quantitative", "title": null, "scale": {"domain": [-0.0044, 0.0035], "nice": false, "zero": false, "padding": 0}}}},
{"data": {"name": "macd"}, "mark": {"type": "line", "color": "#0000FF", "strokeWidth": 2}, "encoding": {"x": {"field": "i", "type": "quantitative", "title": null, "scale": {"domain": [-0.853, 271.5], "nice": false, "zero": false, "padding": 0}}, "y": {"field": "v", "type": "quantitative", "title": null, "scale": {"domain": [-0.0044, 0.0035], "nice": false, "zero": false, "padding": 0}}}},
{"data": {"values": [{"i": 177.6, "v": 0.00245, "g": "a"}, {"i": 214.6, "v": 0.00135, "g": "a"}, {"i": 174.1, "v": 0.00135, "g": "b"}, {"i": 217.5, "v": 0.00075, "g": "b"}]}, "mark": {"type": "line", "color": "#F00000", "strokeWidth": 2.5}, "encoding": {"x": {"field": "i", "type": "quantitative", "title": null, "scale": {"domain": [-0.853, 271.5], "nice": false, "zero": false, "padding": 0}}, "y": {"field": "v", "type": "quantitative", "title": null, "scale": {"domain": [-0.0044, 0.0035], "nice": false, "zero": false, "padding": 0}}, "detail": {"field": "g"}}},
{"data": {"values": [{"i": 0.57, "v": 0.00295, "t": "MACD(12,26,9) 0.001354 0.000683 0.000671 0.000000"}]}, "mark": {"type": "text", "align": "left", "baseline": "middle", "fontSize": 6.6, "font": "Liberation Sans", "color": "#000000"}, "encoding": {"x": {"field": "i", "type": "quantitative", "title": null, "scale": {"domain": [-0.853, 271.5], "nice": false, "zero": false, "padding": 0}}, "y": {"field": "v", "type": "quantitative", "title": null, "scale": {"domain": [-0.0044, 0.0035], "nice": false, "zero": false, "padding": 0}}, "text": {"field": "t"}}},
{"data": {"values": [{"a": 109.7, "b": 172.3, "top": -0.0029, "bot": -0.00595}]}, "mark": {"type": "rect", "color": "#E46F6F", "opacity": 1}, "encoding": {"x": {"field": "a", "type": "quantitative", "title": null, "scale": {"domain": [-0.853, 271.5], "nice": false, "zero": false, "padding": 0}}, "x2": {"field": "b"}, "y": {"field": "top", "type": "quantitative", "title": null, "scale": {"domain": [-0.0044, 0.0035], "nice": false, "zero": false, "padding": 0}}, "y2": {"field": "bot"}}},
{"data": {"values": [{"i": 118.3, "v": -0.0045}]}, "mark": {"type": "point", "shape": "circle", "size": 260, "filled": false, "color": "#FFFFFF", "strokeWidth": 2.5, "opacity": 1}, "encoding": {"x": {"field": "i", "type": "quantitative", "title": null, "scale": {"domain": [-0.853, 271.5], "nice": false, "zero": false, "padding": 0}}, "y": {"field": "v", "type": "quantitative", "title": null, "scale": {"domain": [-0.0044, 0.0035], "nice": false, "zero": false, "padding": 0}}}},
{"data": {"values": [{"i": 126.1, "v": -0.0052, "t": "instaforex"}]}, "mark": {"type": "text", "align": "left", "baseline": "alphabetic", "fontSize": 19, "font": "Liberation Sans", "color": "#FFFFFF"}, "encoding": {"x": {"field": "i", "type": "quantitative", "title": null, "scale": {"domain": [-0.853, 271.5], "nice": false, "zero": false, "padding": 0}}, "y": {"field": "v", "type": "quantitative", "title": null, "scale": {"domain": [-0.0044, 0.0035], "nice": false, "zero": false, "padding": 0}}, "text": {"field": "t"}}}
]
}
]
}
